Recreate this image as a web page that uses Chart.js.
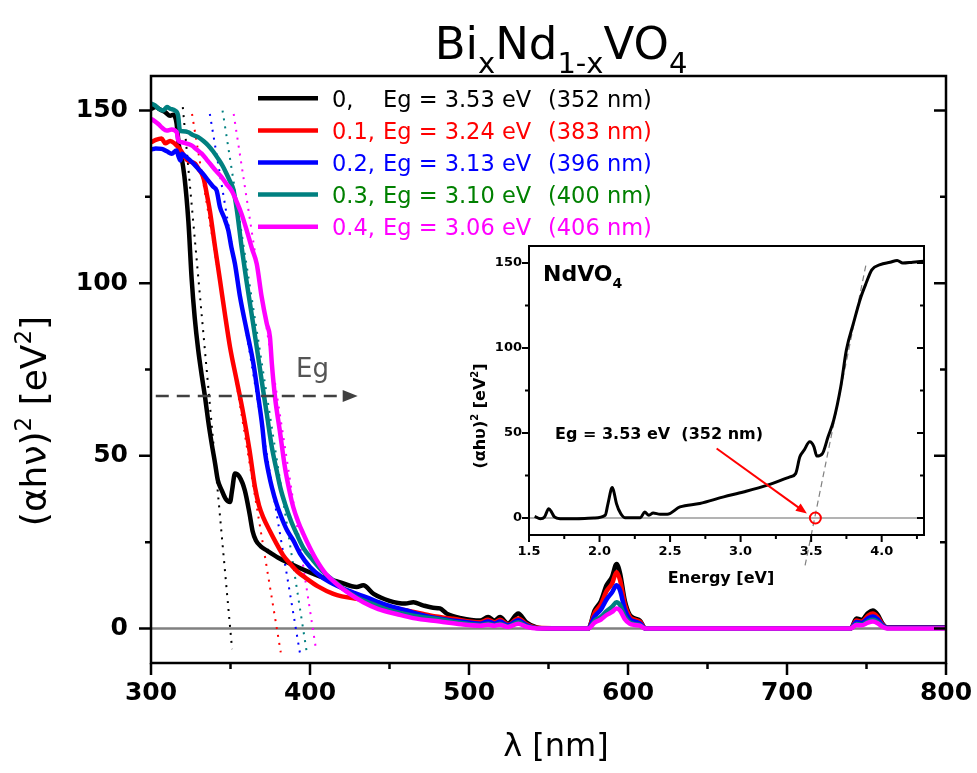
<!DOCTYPE html>
<html>
<head>
<meta charset="utf-8">
<script src="https://cdn.jsdelivr.net/npm/chart.js@4.4.0/dist/chart.umd.min.js"></script>
<style>
  html, body { margin: 0; padding: 0; background: #fff; }
  #wrap { position: relative; width: 977px; height: 773px; }
  #main { position: absolute; left: 0; top: 0; }
  #inset { position: absolute; left: 440px; top: 236px; }
</style>
</head>
<body>
<div id="wrap">
  <canvas id="main" width="977" height="773"></canvas>
  <canvas id="inset" width="500" height="360"></canvas>
</div>
<script>
// ---- main chart: wavelength (nm) vs (αhν)² (eV²), one pair of arrays per composition ----
const wl0 = [300,303,306,309,312,314,316,317.5,319,321,323.5,325.6,327.5,329.6,332,334,336,338,340.3,342,344.5,347,349.7,351,352.8,355.5,359,362,364,366,369,372.8,380,387.4,398,408,418,429.4,433.5,440,450,460,465,471,477.4,481.7,486,495,507,512,516,519.5,524.5,531,536,542.6,550,575,579,583,586.5,590,592.8,595,598,601,604.4,607.5,611,740,743.7,747,751,754,757,760,763,800];
const ab0 = [150.5,151,150.2,149.5,148.5,148.8,146.5,140,137,131,118,101,90,81,73,67,60,54,47.8,43,40,37.5,36.6,40,44.9,44,40,33.2,28,25.5,23.8,22.6,20.5,18.8,16.6,14.8,13.5,12,12.5,10,8,7.2,7.6,6.7,6,5.8,4.3,3.0,2.3,3.3,2.3,3.3,1.4,4.3,1.8,0.3,0,0,5.2,8,12.5,15,18.7,16,8,4,2.9,2.3,0,0,2.9,2.5,4.5,5.2,4,1.5,0.3,0.3];

const wl1 = [300,303,306.7,309,312,315,318,320,322,324,327.7,330,333,335,337,340.3,343.4,346.5,349.7,353.9,358,362,365.4,368,370.6,375,379,383,387.4,392,398,405,414.7,420,429.4,435,440,450,460,471.3,475.5,490,507,512,516,519.5,524.5,531,536,543,575,579,583,586.5,590,592.8,595,598,601,604.4,607.5,611,740,743.7,747,751,754,757,760,763,800];
const ab1 = [140.8,141.5,141.9,140.5,141.2,140.4,138.9,137.5,136,135.3,134.6,133,130.5,126,121,110.4,100.8,91,81.5,71.8,62.3,51.5,40.9,35.5,32.2,28,24.5,21.3,18.8,16.5,14.4,12.2,10,9.3,8.6,8.2,7.3,6.2,5.3,4.2,3.8,2.8,1.8,2.5,1.8,2.5,1.1,2.9,1.3,0.2,0,4.5,7,10.8,13,16.3,14,7,3.5,2.5,2,0,0,2.3,2,3.7,4.3,3.3,1.2,0.2,0.2];

const wl2 = [300,303,306.7,310,313,316,317.5,318.5,319.5,321,323.5,327,330.8,333,336,339,341.3,343.4,346,348.6,350.5,352.8,356,360.2,364.4,367.5,370,371.7,374,376,379,382,385.5,389.5,394,400,407,414.7,425,435.6,447,460.8,470,481.7,495,507,512,516,519.5,524.5,531,536,543,575,579,583,586.5,590,592.8,595,598,601,604.4,607.5,611,740,743.7,747,751,754,757,760,763,800];
const ab2 = [138.7,139,138.9,138.2,137.5,138.4,136.5,135.5,137.5,137,136,134.5,132.6,131.5,129.7,128,126.8,122,119,115.3,110.5,105.6,96,86.3,76.7,67,58.5,51,45,40.9,36,32.2,28.5,25.5,21.5,17.8,15,12.9,10.8,9,7,5.2,3.9,2.8,2,1.4,2,1.4,2,0.9,2.4,1,0.1,0,3.5,5.5,8.4,10.5,12.5,11,5.5,2.8,2,1.5,0,0,1.9,1.6,3,3.5,2.7,1,0.2,0.2];

const wl3 = [300,302.5,305,307.7,310,312,315,317,318.2,320,323.5,326,329.7,333,336,339,342.3,345,347.5,349.5,351.7,353.9,357,360,363.3,366.5,369.6,372.8,376,379,381.5,384.3,388,391.6,396,402,408,414.7,421,429.4,440,450.3,465,481.7,495,507,512,516,519.5,524.5,531,536,543,575,579,583,586.5,590,592.8,595,598,601,604.4,607.5,611,740,743.7,747,751,754,757,760,763,800];
const ab3 = [152,151.5,150.5,150,151,150.5,150,148.6,144.2,144,143.7,143,142.3,141.2,139.9,138.2,136,134,131.7,129.7,127.3,121.5,110.4,100.8,91,81.5,71.8,62.2,52.5,45.8,40.5,36.1,31.2,27.4,23.2,19.7,16.5,13.9,11.5,9,7,5.2,3.7,2.6,1.6,1.0,1.4,1.0,1.4,0.6,1.8,0.7,0.1,0,2.2,3.4,5,6.3,7.6,6.8,3.5,1.8,1.2,1,0,0,1.3,1.1,2.1,2.5,1.9,0.7,0.1,0.1];

const wl4 = [300,302,304.6,307,309.9,313,316.2,317.2,319.3,322,325.5,328.5,331.9,335,338.2,341.3,344.4,347.5,350.7,354,357,360.2,363.5,366.5,369.6,372.8,374.8,376,378,381,384.3,387,389.5,392.5,395.8,400,404.2,410,416.8,425,433.5,443,454.4,465,481.7,495,507,512,516,519.5,524.5,531,536,543,575,579,583,586.5,590,592.8,595,598,601,604.4,607.5,611,740,743.7,747,751,754,757,760,763,800];
const ab4 = [147.6,147,146.1,145,144.2,144.5,143.7,141.3,140.8,140.5,139.9,138.8,137.5,135.8,134,132.3,130.7,128.7,126.8,123.5,120,115.3,110,105.6,96,88.3,84.4,76.7,67,57.3,46.5,40,35.1,31,27.4,23.3,19.7,15.8,12.9,10,7.6,5.6,4.2,3,2.0,1.2,0.8,1.1,0.8,1.1,0.4,1.4,0.5,0,0,1.7,2.6,3.9,4.8,5.8,5.2,2.7,1.4,1,0.8,0,0,1,0.9,1.7,2,1.5,0.5,0,0];

// linear extrapolations of the absorption edges (end points)
const tanWl = [[320, 351], [325.8, 381.6], [337, 393.7], [345, 398], [352, 404]];
const tanAb = [[151, -6], [149, -6.9], [149, -7.2], [150, -7], [149, -6.7]];

const compLabels = ['0,', '0.1,', '0.2,', '0.3,', '0.4,'];
const egLabels = ['Eg = 3.53 eV', 'Eg = 3.24 eV', 'Eg = 3.13 eV', 'Eg = 3.10 eV', 'Eg = 3.06 eV'];
const nmLabels = ['(352 nm)', '(383 nm)', '(396 nm)', '(400 nm)', '(406 nm)'];
const xTickVals = [300, 400, 500, 600, 700, 800];
const yTickVals = [0, 50, 100, 150];

// ---- inset: NdVO4, energy (eV) vs (αhυ)² ----
const enNd = [1.54,1.58,1.61,1.64,1.66,1.68,1.72,1.84,1.96,2.04,2.06,2.09,2.10,2.12,2.15,2.18,2.29,2.32,2.35,2.38,2.43,2.48,2.57,2.71,2.88,3.02,3.19,3.35,3.39,3.42,3.45,3.49,3.52,3.54,3.58,3.62,3.66,3.71,3.75,3.80,3.85,3.89,3.93,3.99,4.06,4.11,4.15,4.22,4.30];
const abNd = [1,-0.4,0.6,5.5,3.5,0.6,-0.4,-0.4,0,1.6,8.5,17.9,16,8.5,2.6,0.2,0.2,3.5,1.6,2.9,2.2,2.2,6.5,8.5,12.4,15.3,19.3,24.2,26.1,36,39.9,44.8,41.9,36.4,37.9,47.8,57.6,77.2,98.9,114.6,129.3,138.2,146,149,150.4,151.5,150,150.5,151];
const tanNdEn = [3.457, 3.89];
const tanNdAb = [-27.9, 149.6];
const insetXTickVals = [1.5, 2.0, 2.5, 3.0, 3.5, 4.0];
const insetYTickVals = [0, 50, 100, 150];

const lineColors = ['#000000', '#ff0000', '#0000ff', '#008080', '#ff00ff'];
const textColors = ['#000000', '#ff0000', '#0000ff', '#008000', '#ff00ff'];
const FONT = '"DejaVu Sans", "Liberation Sans", sans-serif';

const pts = (xs, ys) => xs.map((x, i) => ({ x, y: ys[i] }));

// draws text made of normal / sub / sup parts, starting (or centred) at x on baseline y
function richText(ctx, parts, x, y, size, weight, align) {
    const small = Math.round(size * 0.65);
    const fontOf = p => `${weight} ${p.s ? small : size}px ${FONT}`;
    let w = 0;
    parts.forEach(p => { ctx.font = fontOf(p); w += ctx.measureText(p.t).width; });
    let cx = align === 'center' ? x - w / 2 : x;
    ctx.textAlign = 'left';
    ctx.textBaseline = 'alphabetic';
    parts.forEach(p => {
        ctx.font = fontOf(p);
        const dy = p.s === 'sub' ? size * 0.32 : p.s === 'sup' ? -size * 0.42 : 0;
        ctx.fillText(p.t, cx, y + dy);
        cx += ctx.measureText(p.t).width;
    });
}

// box frame plus major/minor ticks: outward on left & bottom, inward on right
function drawFrame(chart, o) {
    const { ctx, chartArea: a, scales: { x, y } } = chart;
    const isMajor = (v, step) => Math.abs(v / step - Math.round(v / step)) < 1e-6;
    ctx.save();
    ctx.strokeStyle = '#000';
    ctx.lineWidth = o.lw;
    ctx.beginPath();
    for (let v = Math.ceil(x.min / o.xMinor - 1e-9) * o.xMinor; v <= x.max + 1e-9; v += o.xMinor) {
        const px = x.getPixelForValue(v);
        const len = isMajor(v, o.xMajor) ? o.major : o.minor;
        ctx.moveTo(px, a.bottom);
        ctx.lineTo(px, a.bottom + len);
    }
    for (let v = Math.ceil(y.min / o.yMinor - 1e-9) * o.yMinor; v <= y.max + 1e-9; v += o.yMinor) {
        const py = y.getPixelForValue(v);
        const len = isMajor(v, o.yMajor) ? o.major : o.minor;
        ctx.moveTo(a.left - len, py);
        ctx.lineTo(a.left, py);
        ctx.moveTo(a.right - len, py);
        ctx.lineTo(a.right, py);
    }
    ctx.stroke();
    ctx.strokeRect(a.left, a.top, a.right - a.left, a.bottom - a.top);
    ctx.restore();
}

const mainDecor = {
    id: 'mainDecor',
    afterDraw(chart) {
        const { ctx, scales: { x, y } } = chart;
        drawFrame(chart, { lw: 2.5, xMinor: 50, xMajor: 100, yMinor: 25, yMajor: 50, major: 12, minor: 6 });

        ctx.save();
        ctx.fillStyle = '#000';
        // title
        richText(ctx, [{ t: 'Bi' }, { t: 'x', s: 'sub' }, { t: 'Nd' }, { t: '1-x', s: 'sub' }, { t: 'VO' }, { t: '4', s: 'sub' }],
            561, 59, 45, 'normal', 'center');
        // x title
        ctx.font = `32px ${FONT}`;
        ctx.textAlign = 'center';
        ctx.textBaseline = 'alphabetic';
        ctx.fillText('λ [nm]', 556, 756);
        // y title
        ctx.save();
        ctx.translate(35, 421);
        ctx.rotate(-Math.PI / 2);
        richText(ctx, [{ t: '(αhν)' }, { t: '2', s: 'sup' }, { t: ' [eV' }, { t: '2', s: 'sup' }, { t: ']' }], 0, 11, 36, 'normal', 'center');
        ctx.restore();

        // legend
        for (let i = 0; i < compLabels.length; i++) {
            const ry = 98.3 + i * 32.1;
            ctx.strokeStyle = lineColors[i];
            ctx.lineWidth = 4.5;
            ctx.beginPath();
            ctx.moveTo(258, ry);
            ctx.lineTo(318, ry);
            ctx.stroke();
            ctx.fillStyle = textColors[i];
            ctx.font = `22.5px ${FONT}`;
            ctx.textAlign = 'left';
            ctx.fillText(compLabels[i], 332, ry + 8.2);
            ctx.fillText(egLabels[i], 383, ry + 8.2);
            ctx.fillText(nmLabels[i], 548, ry + 8.2);
        }

        // dashed "Eg" arrow
        const ay = y.getPixelForValue(67.3);
        const ax0 = x.getPixelForValue(303);
        const ax1 = x.getPixelForValue(430);
        ctx.strokeStyle = '#404040';
        ctx.fillStyle = '#404040';
        ctx.lineWidth = 2.5;
        ctx.setLineDash([13, 8]);
        ctx.beginPath();
        ctx.moveTo(ax0, ay);
        ctx.lineTo(ax1 - 12, ay);
        ctx.stroke();
        ctx.setLineDash([]);
        ctx.beginPath();
        ctx.moveTo(ax1, ay);
        ctx.lineTo(ax1 - 15, ay - 6);
        ctx.lineTo(ax1 - 15, ay + 6);
        ctx.closePath();
        ctx.fill();
        ctx.fillStyle = '#555';
        ctx.font = `26px ${FONT}`;
        ctx.fillText('Eg', x.getPixelForValue(391.2), y.getPixelForValue(75.6) + 9.5);
        ctx.restore();
    }
};

const curveSets = [[wl0, ab0], [wl1, ab1], [wl2, ab2], [wl3, ab3], [wl4, ab4]].map(([xs, ys], i) => ({
    data: pts(xs, ys),
    borderColor: lineColors[i],
    borderWidth: 4.5,
    order: 5 - i,
    cubicInterpolationMode: 'monotone'
}));
const tangentSets = tanWl.map((xs, i) => ({
    data: pts(xs, tanAb[i]),
    borderColor: lineColors[i],
    borderWidth: 2,
    borderDash: [2, 6],
    order: 8
}));
const zeroSet = { data: pts([300, 800], [0, 0]), borderColor: '#808080', borderWidth: 2.5, order: 9 };

new Chart(document.getElementById('main').getContext('2d'), {
    type: 'line',
    data: { datasets: [...curveSets, ...tangentSets, zeroSet] },
    options: {
        responsive: false,
        animation: false,
        layout: { padding: { left: 0, top: 76, right: 31, bottom: 0 } },
        elements: { point: { radius: 0 } },
        plugins: { legend: { display: false }, tooltip: { enabled: false } },
        scales: {
            x: {
                type: 'linear', min: 300, max: 800,
                afterFit: s => { s.height = 110; s.paddingLeft = 0; s.paddingRight = 0; },
                afterBuildTicks: s => { s.ticks = xTickVals.map(v => ({ value: v })); },
                grid: { display: false, drawTicks: false },
                border: { display: false },
                ticks: { color: '#000', padding: 15, font: { family: FONT, size: 25, weight: 'bold' } }
            },
            y: {
                type: 'linear', min: -10, max: 160,
                afterFit: s => { s.width = 151; s.paddingTop = 0; s.paddingBottom = 0; },
                afterBuildTicks: s => { s.ticks = yTickVals.map(v => ({ value: v })); },
                grid: { display: false, drawTicks: false },
                border: { display: false },
                ticks: { color: '#000', padding: 23, font: { family: FONT, size: 25, weight: 'bold' } }
            }
        }
    },
    plugins: [mainDecor]
});

const insetDecor = {
    id: 'insetDecor',
    beforeDatasetsDraw(chart) {
        const { ctx, chartArea: a } = chart;
        ctx.save();
        ctx.fillStyle = '#fff';
        ctx.fillRect(a.left, a.top, a.right - a.left, a.bottom - a.top);
        ctx.restore();
    },
    afterDraw(chart) {
        const { ctx, scales: { x, y } } = chart;
        drawFrame(chart, { lw: 2, xMinor: 0.25, xMajor: 0.5, yMinor: 25, yMajor: 50, major: 7, minor: 4 });
        ctx.save();
        ctx.fillStyle = '#000';
        richText(ctx, [{ t: 'NdVO' }, { t: '4', s: 'sub' }], 103, 45, 22, 'bold', 'left');
        richText(ctx, [{ t: 'Eg = 3.53 eV  (352 nm)' }], 115, 203, 16, 'bold', 'left');
        ctx.font = `bold 16px ${FONT}`;
        ctx.textAlign = 'center';
        ctx.fillText('Energy [eV]', 281, 347);
        ctx.save();
        ctx.translate(40, 180);
        ctx.rotate(-Math.PI / 2);
        richText(ctx, [{ t: '(αhυ)' }, { t: '2', s: 'sup' }, { t: ' [eV' }, { t: '2', s: 'sup' }, { t: ']' }], 0, 5, 16, 'bold', 'center');
        ctx.restore();

        // red arrow to the band gap and circle at the intercept
        const x0 = x.getPixelForValue(2.83), y0 = y.getPixelForValue(40.9);
        const x1 = x.getPixelForValue(3.47), y1 = y.getPixelForValue(2.6);
        const ang = Math.atan2(y1 - y0, x1 - x0);
        ctx.strokeStyle = '#ff0000';
        ctx.fillStyle = '#ff0000';
        ctx.lineWidth = 2;
        ctx.beginPath();
        ctx.moveTo(x0, y0);
        ctx.lineTo(x1 - 8 * Math.cos(ang), y1 - 8 * Math.sin(ang));
        ctx.stroke();
        ctx.beginPath();
        ctx.moveTo(x1, y1);
        ctx.lineTo(x1 - 11 * Math.cos(ang) + 4.5 * Math.sin(ang), y1 - 11 * Math.sin(ang) - 4.5 * Math.cos(ang));
        ctx.lineTo(x1 - 11 * Math.cos(ang) - 4.5 * Math.sin(ang), y1 - 11 * Math.sin(ang) + 4.5 * Math.cos(ang));
        ctx.closePath();
        ctx.fill();
        ctx.beginPath();
        ctx.arc(x.getPixelForValue(3.53), y.getPixelForValue(0), 5.5, 0, Math.PI * 2);
        ctx.stroke();
        ctx.restore();
    }
};

new Chart(document.getElementById('inset').getContext('2d'), {
    type: 'line',
    data: {
        datasets: [
            { data: pts(enNd, abNd), borderColor: '#000', borderWidth: 3, order: 1, cubicInterpolationMode: 'monotone' },
            { data: pts(tanNdEn, tanNdAb), borderColor: '#808080', borderWidth: 1.2, borderDash: [6, 4], clip: false, order: 2 },
            { data: pts([1.5, 4.3], [0, 0]), borderColor: '#9a9a9a', borderWidth: 1.5, order: 3 }
        ]
    },
    options: {
        responsive: false,
        animation: false,
        layout: { padding: { left: 0, top: 10, right: 16, bottom: 0 } },
        elements: { point: { radius: 0 } },
        plugins: { legend: { display: false }, tooltip: { enabled: false } },
        scales: {
            x: {
                type: 'linear', min: 1.5, max: 4.3,
                afterFit: s => { s.height = 61; s.paddingLeft = 0; s.paddingRight = 0; },
                afterBuildTicks: s => { s.ticks = insetXTickVals.map(v => ({ value: v })); },
                grid: { display: false, drawTicks: false },
                border: { display: false },
                ticks: { color: '#000', padding: 9, callback: v => v.toFixed(1), font: { family: FONT, size: 13, weight: 'bold' } }
            },
            y: {
                type: 'linear', min: -10, max: 160,
                afterFit: s => { s.width = 89; s.paddingTop = 0; s.paddingBottom = 0; },
                afterBuildTicks: s => { s.ticks = insetYTickVals.map(v => ({ value: v })); },
                grid: { display: false, drawTicks: false },
                border: { display: false },
                ticks: { color: '#000', padding: 7, font: { family: FONT, size: 13, weight: 'bold' } }
            }
        }
    },
    plugins: [insetDecor]
});
</script>
</body>
</html>
